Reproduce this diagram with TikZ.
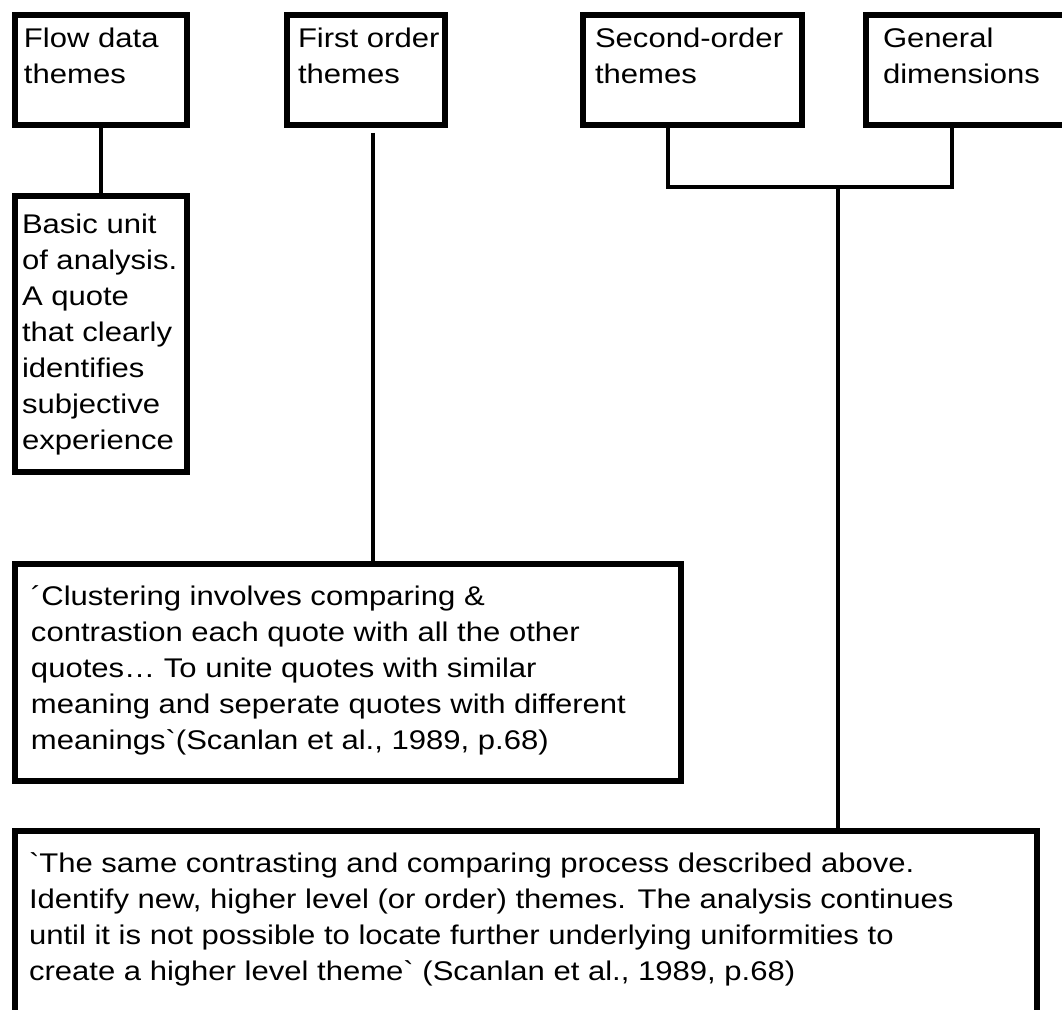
\documentclass[tikz,border=0pt]{standalone}
\usepackage{fontspec}
\setmainfont{Liberation Sans}[Ligatures=TeXOff,FakeStretch=1.15]
\usetikzlibrary{positioning,calc}
\newcommand{\boxfont}{\fontsize{13.5pt}{18pt}\selectfont}
\newcommand{\boxbody}[5]{\parbox[c][#2][t]{#1}{\raggedright\leftskip=#3\relax\rightskip=-3em plus 1fil\relax\vspace*{#4}#5}}

\begin{document}
\begin{tikzpicture}[x=0.5pt,y=-0.5pt,
  textbox/.style={draw,line width=3pt,inner sep=0pt,anchor=north west,font=\boxfont},
  link/.style={line width=2.3pt},
  node distance=32.5pt
]
\useasboundingbox (0,0) rectangle (1062,1010);
\clip (0,0) rectangle (1062,1010);

\node[textbox] (flow) at (12,12) {\boxbody{86pt}{55pt}{4.5pt}{6.5pt}{Flow data\\themes}};
\node[textbox,below=of flow] (basic) {\boxbody{86pt}{138pt}{3.5pt}{9pt}{Basic unit\\of analysis.\\A quote\\that clearly\\identifies\\subjective\\experience}};
\node[textbox] (first) at (284,12) {\boxbody{79pt}{55pt}{5.5pt}{6.5pt}{First order\\themes}};
\node[textbox] (second) at (580,12) {\boxbody{109.5pt}{55pt}{6pt}{6.5pt}{Second-order\\themes}};
\node[textbox] (gen) at (863,12) {\boxbody{110pt}{55pt}{8.5pt}{6.5pt}{General\\dimensions}};
\node[textbox] (cluster) at (12,561) {\boxbody{333pt}{108.5pt}{8pt}{11pt}{´Clustering involves comparing \&\\contrastion each quote with all the other\\quotes… To unite quotes with similar\\meaning and seperate quotes with different\\meanings`(Scanlan et al., 1989, p.68)}};
\node[textbox] (bottom) at (12,828) {\boxbody{511pt}{100pt}{7pt}{11pt}{`The same contrasting and comparing process described above.\\Identify new, higher level (or order) themes. The analysis continues\\until it is not possible to locate further underlying uniformities to\\create a higher level theme` (Scanlan et al., 1989, p.68)}};

\coordinate (firstfoot) at ([xshift=44.5pt]first.south west);
\coordinate (fork) at (838,187);

\draw[link] (flow) -- (basic);
\draw[link] ([yshift=-2.5pt]firstfoot) -- (firstfoot |- cluster.north);
\draw[link] ([xshift=44pt]second.south west) |- (fork) -| ([xshift=44.5pt]gen.south west);
\draw[link] (fork) -- (fork |- bottom.north);
\end{tikzpicture}
\end{document}
